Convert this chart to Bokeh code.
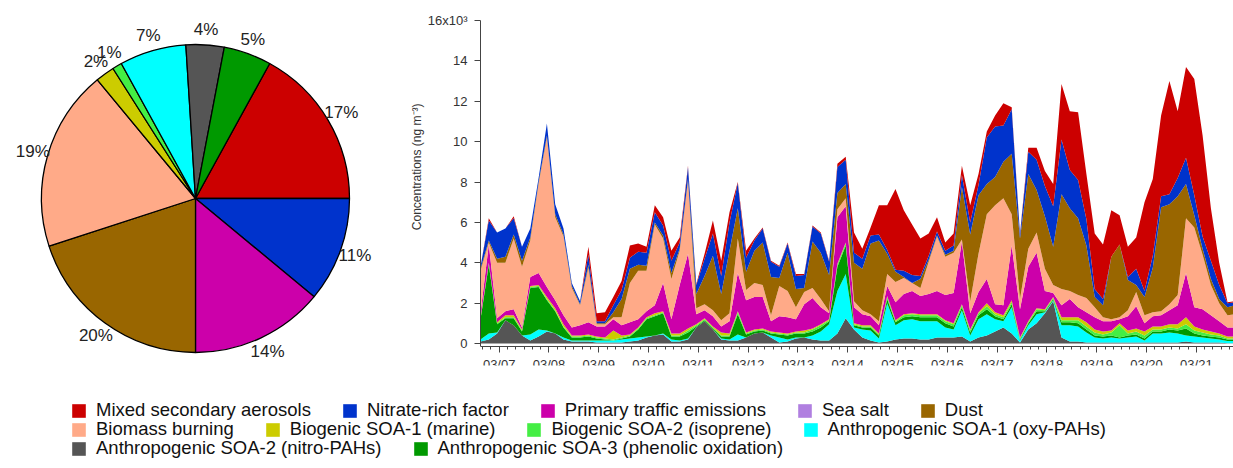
import math
import numpy as np
from bokeh.plotting import figure
from bokeh.layouts import column, row
from bokeh.models import (ColumnDataSource, Range1d, FixedTicker, Legend, LegendItem, Title)
from bokeh.core.properties import value
from bokeh.embed import file_html
from bokeh.resources import INLINE

# ---------------- data ----------------
names = ["Mixed secondary aerosols", "Nitrate-rich factor", "Primary traffic emissions",
         "Sea salt", "Dust", "Biomass burning", "Biogenic SOA-1 (marine)",
         "Biogenic SOA-2 (isoprene)", "Anthropogenic SOA-1 (oxy-PAHs)",
         "Anthropogenic SOA-2 (nitro-PAHs)", "Anthropogenic SOA-3 (phenolic oxidation)"]
colors = ["#CC0000", "#0033CC", "#CC00AA", "#B07FE0", "#996600", "#FFAA88",
          "#CCCC00", "#44EE44", "#00FFFF", "#555555", "#009900"]
pie_pct = [17, 11, 14, 0, 20, 19, 2, 1, 7, 4, 5]

date_labels = ["03/07", "03/08", "03/09", "03/10", "03/11", "03/12", "03/13", "03/14",
               "03/15", "03/16", "03/17", "03/18", "03/19", "03/20", "03/21"]
y_ticks = [0, 2, 4, 6, 8, 10, 12, 14, 16]

# 4-hourly samples from 03/06 15:00 (days relative to 03/07 00:00), x10^3 ng m-3
t_start = -0.375
step_days = 1.0 / 6.0

anthro_soa2 = [0.1, 0.2, 0.5, 1.15, 0.9, 0.4, 0.15, 0.35, 0.6, 0.5, 0.2, 0.1, 0.1, 0.1, 0.05, 0.05,
               0.05, 0.05, 0.1, 0.15, 0.3, 0.4, 0.45, 0.1, 0.1, 0.2, 0.8, 1.1, 0.7, 0.2, 0.15, 0.15,
               0.3, 0.5, 0.55, 0.3, 0.05, 0.1, 0.25, 0.3, 0.2, 0.15, 0.15, 0.5, 1.25, 0.7, 0.3, 0.15,
               0.05, 0.1, 0.2, 0.25, 0.25, 0.2, 0.2, 0.3, 0.3, 0.3, 0.35, 0.1, 0.3, 0.4, 0.6, 0.8,
               0.5, 0.05, 0.7, 1.0, 1.5, 2.1, 0.3, 0.1, 0.1, 0.05, 0.05, 0.05, 0.05, 0.05, 0.05, 0.05,
               0.05, 0.05, 0.05, 0.05, 0.05, 0.1, 0.05, 0.05, 0.05, 0.05, 0.02, 0.02]
anthro_soa1 = [0.1, 0.3, 0.05, 0.0, 0.0, 0.0, 0.3, 0.35, 0.05, 0.0, 0.1, 0.05, 0.05, 0.05, 0.1, 0.1,
               0.1, 0.15, 0.15, 0.15, 0.05, 0.0, 0.05, 0.1, 0.05, 0.05, 0.0, 0.0, 0.0, 0.05, 0.05, 0.3,
               0.0, 0.0, 0.0, 0.1, 0.25, 0.1, 0.05, 0.0, 0.2, 0.45, 0.8, 2.1, 2.2, 0.1, 0.4, 0.5,
               0.2, 1.9, 0.7, 0.9, 0.95, 0.9, 0.9, 0.8, 0.5, 0.4, 1.3, 0.3, 0.9, 1.05, 0.6, 0.3,
               1.3, 0.1, 0.2, 0.45, 0.05, 0.05, 0.6, 0.8, 0.75, 0.5, 0.25, 0.2, 0.25, 0.2, 0.25, 0.3,
               0.1, 0.45, 0.45, 0.5, 0.45, 0.3, 0.3, 0.25, 0.2, 0.15, 0.1, 0.1]
anthro_soa3 = [1.0, 3.4, 0.4, 0.1, 0.35, 0.2, 2.3, 2.1, 1.5, 1.1, 0.5, 0.15, 0.15, 0.2, 0.1, 0.05,
               0.0, 0.05, 0.1, 0.4, 0.85, 0.95, 1.0, 0.15, 0.2, 0.3, 0.05, 0.05, 0.05, 0.1, 0.15, 1.0,
               0.15, 0.1, 0.1, 0.1, 0.15, 0.2, 0.2, 0.2, 0.2, 0.2, 0.15, 1.2, 1.4, 0.1, 0.1, 0.15,
               0.15, 0.2, 0.15, 0.15, 0.15, 0.2, 0.2, 0.2, 0.2, 0.15, 0.15, 0.15, 0.2, 0.25, 0.15, 0.1,
               0.15, 0.05, 0.1, 0.15, 0.05, 0.05, 0.15, 0.15, 0.15, 0.15, 0.1, 0.1, 0.1, 0.05, 0.1, 0.1,
               0.1, 0.1, 0.1, 0.15, 0.15, 0.35, 0.15, 0.1, 0.1, 0.1, 0.08, 0.08]
biogenic_soa2 = [0.05, 0.05, 0.05, 0.05, 0.05, 0.05, 0.05, 0.05, 0.05, 0.05, 0.05, 0.05, 0.05, 0.05, 0.05, 0.05,
                 0.05, 0.05, 0.05, 0.05, 0.05, 0.05, 0.05, 0.05, 0.05, 0.1, 0.05, 0.05, 0.05, 0.05, 0.05, 0.1,
                 0.05, 0.05, 0.05, 0.05, 0.05, 0.05, 0.05, 0.05, 0.1, 0.1, 0.05, 0.1, 0.1, 0.05, 0.05, 0.05,
                 0.05, 0.1, 0.05, 0.1, 0.1, 0.1, 0.1, 0.1, 0.1, 0.1, 0.1, 0.1, 0.1, 0.15, 0.1, 0.1,
                 0.1, 0.05, 0.05, 0.1, 0.05, 0.05, 0.1, 0.1, 0.15, 0.15, 0.15, 0.1, 0.15, 0.6, 0.1, 0.15,
                 0.15, 0.1, 0.1, 0.1, 0.1, 0.2, 0.15, 0.15, 0.1, 0.1, 0.05, 0.05]
biogenic_soa1 = [0.05, 0.05, 0.05, 0.1, 0.1, 0.05, 0.05, 0.05, 0.1, 0.1, 0.1, 0.05, 0.05, 0.05, 0.05, 0.05,
                 0.45, 0.1, 0.05, 0.05, 0.05, 0.1, 0.05, 0.1, 0.1, 0.1, 0.05, 0.05, 0.05, 0.15, 0.1, 0.05,
                 0.05, 0.05, 0.05, 0.05, 0.05, 0.05, 0.05, 0.1, 0.05, 0.05, 0.05, 0.05, 0.05, 0.05, 0.05, 0.05,
                 0.05, 0.05, 0.05, 0.05, 0.05, 0.05, 0.05, 0.05, 0.05, 0.05, 0.05, 0.05, 0.05, 0.15, 0.1, 0.1,
                 0.1, 0.05, 0.05, 0.05, 0.05, 0.05, 0.15, 0.15, 0.15, 0.2, 0.15, 0.15, 0.1, 0.1, 0.15, 0.15,
                 0.2, 0.15, 0.15, 0.15, 0.2, 0.35, 0.2, 0.15, 0.15, 0.1, 0.1, 0.1]
sea_salt = [0.0] * 92
traffic = [0.2, 0.9, 0.2, 0.2, 0.3, 0.1, 0.45, 0.6, 0.5, 0.4, 0.45, 0.4, 0.5, 0.6, 0.5, 0.55,
           0.55, 0.5, 0.6, 0.4, 0.3, 0.4, 1.4, 0.7, 2.4, 3.7, 0.5, 0.4, 0.5, 0.3, 0.6, 1.9,
           1.6, 1.6, 1.55, 0.5, 0.8, 0.8, 0.6, 1.3, 1.5, 0.85, 0.3, 2.3, 1.8, 0.8, 0.55, 0.45,
           0.4, 0.5, 0.9, 1.0, 1.1, 0.9, 1.0, 1.15, 1.25, 1.5, 3.1, 0.8, 1.0, 1.2, 0.4, 0.5,
           2.7, 1.4, 2.7, 2.75, 0.9, 0.2, 0.6, 0.9, 0.5, 0.5, 0.6, 0.5, 0.45, 0.2, 0.7, 1.1,
           0.4, 0.5, 0.55, 0.7, 0.95, 2.2, 0.95, 1.0, 0.8, 0.6, 0.45, 0.45]
biomass = [2.1, 0.1, 2.75, 2.4, 3.5, 3.0, 1.8, 4.4, 7.4, 4.1, 3.9, 1.95, 1.0, 2.7, 0.1, 0.1,
           0.1, 0.4, 1.95, 2.4, 2.0, 4.0, 2.2, 2.0, 1.7, 3.6, 0.3, 0.3, 0.3, 0.3, 0.4, 1.7,
           0.5, 0.7, 0.6, 0.3, 1.5, 1.3, 0.6, 0.6, 0.5, 0.4, 0.1, 0.4, 0.4, 0.3, 0.2, 0.1,
           0.2, 0.6, 1.0, 0.8, 0.4, 0.4, 1.6, 2.7, 1.9, 2.0, 0.1, 0.6, 1.9, 3.2, 4.9, 5.3,
           1.55, 0.5, 0.9, 1.0, 1.1, 0.4, 0.8, 0.4, 0.6, 0.7, 0.5, 0.2, 0.1, 0.1, 0.3, 0.7,
           0.4, 0.2, 0.2, 0.3, 0.5, 2.7, 3.95, 2.7, 1.5, 0.9, 0.6, 0.65]
dust = [0.1, 0.1, 0.2, 0.3, 0.2, 0.3, 0.15, 0.1, 0.1, 0.15, 0.1, 0.1, 0.05, 0.15, 0.05, 0.05,
        0.25, 0.9, 0.7, 0.3, 0.25, 0.1, 0.15, 0.3, 0.1, 0.1, 0.7, 1.4, 2.7, 1.3, 3.1, 1.5,
        0.9, 1.6, 2.1, 1.9, 0.4, 1.9, 0.9, 0.2, 2.3, 2.3, 1.8, 0.8, 0.7, 1.9, 2.05, 3.5,
        4.0, 1.0, 0.5, 0.05, 0.0, 0.45, 0.1, 0.05, 0.1, 0.1, 2.6, 3.3, 2.9, 1.5, 1.4, 1.8,
        3.0, 3.0, 3.7, 2.1, 2.6, 1.9, 4.7, 4.1, 3.8, 2.6, 0.5, 0.6, 3.1, 3.6, 1.5, 0.35,
        0.9, 2.2, 5.15, 4.95, 4.9, 1.7, 0.6, 0.3, 0.3, 0.2, 0.4, 0.45]
nitrate = [0.1, 1.0, 1.3, 1.4, 0.8, 0.7, 0.45, 0.2, 0.6, 0.5, 0.3, 0.15, 0.15, 0.5, 0.1, 0.1,
           0.35, 0.45, 0.55, 0.65, 0.65, 0.5, 0.5, 0.6, 0.3, 0.6, 0.45, 0.85, 1.1, 0.9, 1.4, 1.25,
           0.7, 0.5, 0.7, 0.75, 0.55, 0.45, 0.65, 0.65, 0.75, 0.95, 0.65, 1.3, 1.2, 0.5, 0.5, 0.4,
           0.3, 0.2, 0.1, 0.3, 0.4, 0.15, 0.2, 0.2, 0.2, 0.25, 0.6, 0.6, 0.5, 2.3, 2.5, 1.8,
           2.2, 0.2, 1.1, 1.5, 1.5, 2.0, 2.7, 1.9, 1.9, 1.3, 0.4, 0.3, 0.0, 0.0, 0.15, 0.8,
           0.3, 0.6, 0.55, 0.5, 0.9, 1.3, 1.0, 0.6, 0.9, 0.7, 0.2, 0.15]
mixed = [0.0, 0.1, 0.0, 0.0, 0.1, 0.0, 0.0, 0.0, 0.0, 0.0, 0.0, 0.0, 0.0, 0.4, 0.4, 0.45,
         0.4, 0.45, 0.6, 0.4, 0.3, 0.35, 0.4, 0.5, 0.25, 0.05, 0.05, 0.25, 0.65, 0.75, 0.5, 0.05,
         0.35, 0.1, 0.05, 0.05, 0.05, 0.05, 0.1, 0.05, 0.05, 0.05, 0.05, 0.15, 0.15, 1.0, 0.5, 0.4,
         1.45, 2.2, 4.0, 3.0, 2.5, 1.85, 1.1, 0.7, 0.4, 0.6, 0.45, 0.85, 0.55, 0.3, 0.55, 1.1,
         0.1, 0.05, 0.2, 0.6, 0.75, 1.1, 2.75, 2.9, 3.35, 2.25, 2.75, 2.7, 2.3, 1.45, 1.5, 1.55,
         4.4, 3.8, 4.0, 5.6, 3.3, 4.5, 5.75, 5.0, 2.6, 1.1, 0.05, 0.05]

series = [mixed, nitrate, traffic, sea_salt, dust, biomass, biogenic_soa1,
          biogenic_soa2, anthro_soa1, anthro_soa2, anthro_soa3]

# stacking order bottom -> top (indices into names)
stack_order = [9, 8, 10, 7, 6, 3, 2, 5, 4, 1, 0]

FONT = "Liberation Sans"
TOP, BOTTOM = 20, 30   # shared frame borders of the upper row (px)
FIG_H = 395

# ---------------- pie ----------------
pie = figure(width=400, height=FIG_H, x_range=Range1d(0, 400),
             y_range=Range1d(BOTTOM, FIG_H - TOP),
             toolbar_location=None, output_backend="svg",
             min_border_left=0, min_border_right=0,
             min_border_top=TOP, min_border_bottom=BOTTOM,
             x_axis_location=None, y_axis_location=None)
pie.outline_line_color = None
pie.grid.visible = False

cx, cy, r = 195, 197, 154
starts, ends, pcols, lx, ly, ltxt = [], [], [], [], [], []
cur = 2 * math.pi * pie_pct[0] / 100.0
for i, pct in enumerate(pie_pct):
    a_end = cur
    a_start = cur - 2 * math.pi * pct / 100.0
    cur = a_start
    if pct <= 0:
        continue
    starts.append(a_start)
    ends.append(a_end)
    pcols.append(colors[i])
    mid = 0.5 * (a_start + a_end)
    lx.append(cx + 1.1 * r * math.cos(mid))
    ly.append(cy + 1.1 * r * math.sin(mid))
    ltxt.append(f"{pct}%")

pie.wedge(x=cx, y=cy, radius=r, start_angle=starts, end_angle=ends,
          fill_color=pcols, line_color="black", line_width=1.3)
pie.text(x=lx, y=ly, text=ltxt, text_font=value(FONT), text_font_size=value("17px"),
         text_align="center", text_baseline="middle", text_color="#222222")

# ---------------- stacked area ----------------
n = len(mixed)
t = t_start + np.arange(n) * step_days
data = {"t": t}
keys = []
for i in stack_order:
    k = f"s{i}"
    data[k] = series[i]
    keys.append(k)
src = ColumnDataSource(data)

px_per_unit = 20.19
frame_h = FIG_H - TOP - BOTTOM
x_end = t_start + 753 / 49.8
p = figure(width=833, height=FIG_H, x_range=Range1d(t_start, x_end),
           y_range=Range1d(16 - frame_h / px_per_unit, 16),
           toolbar_location=None, output_backend="svg",
           min_border_left=80, min_border_right=0, min_border_top=TOP, min_border_bottom=BOTTOM)
p.varea_stack(stackers=keys, x="t", color=[colors[i] for i in stack_order], source=src)
p.outline_line_color = None
p.xgrid.visible = False
p.ygrid.visible = False

minor = [m / 6.0 for m in range(-2, 89) if t_start <= m / 6.0 <= x_end]
p.xaxis.ticker = FixedTicker(ticks=list(range(len(date_labels))), minor_ticks=minor)
p.xaxis.major_label_overrides = {i: lab for i, lab in enumerate(date_labels)}
p.xaxis.fixed_location = -0.15
p.yaxis.ticker = FixedTicker(ticks=y_ticks)
p.yaxis.major_label_overrides = {16: "16x10³"}
p.yaxis.bounds = (-0.15, 16)

for ax in (p.xaxis, p.yaxis):
    ax.axis_line_color = "#444444"
    ax.major_tick_line_color = "#444444"
    ax.minor_tick_line_color = "#444444"
    ax.major_label_text_font = FONT
    ax.major_label_text_font_size = "13px"
    ax.major_label_text_color = "#333333"
    ax.major_tick_in = 0
    ax.minor_tick_in = 0
p.xaxis.major_tick_out = 6
p.xaxis.minor_tick_out = 3
p.xaxis.major_label_standoff = 4
p.yaxis.major_tick_out = 6
p.yaxis.minor_tick_line_color = None
p.yaxis.major_label_standoff = 7

p.add_layout(Title(text="Concentrations (ng m⁻³)", align="right", offset=83, standoff=2,
                   text_font=FONT, text_font_size="12px", text_font_style="normal",
                   text_color="#333333"), "left")

# ---------------- legend ----------------
lf = figure(width=1233, height=73, x_range=Range1d(0, 1233), y_range=Range1d(0, 73),
            toolbar_location=None, output_backend="svg", min_border=0,
            x_axis_location=None, y_axis_location=None)
lf.outline_line_color = None
lf.grid.visible = False
dummies = [lf.quad(left=[-60], right=[-50], bottom=[-60], top=[-50], fill_color=c, line_color=None)
           for c in colors]

rows_idx = [[0, 1, 2, 3, 4], [5, 6, 7, 8], [9, 10]]
rows_y = [47, 28, 9]
for idxs, yy in zip(rows_idx, rows_y):
    items = [LegendItem(label=names[i], renderers=[dummies[i]]) for i in idxs]
    leg = Legend(items=items, location=(70, yy), orientation="horizontal",
                 glyph_width=17, glyph_height=17, label_standoff=9, spacing=30,
                 padding=0, margin=0, border_line_color=None, background_fill_alpha=0,
                 label_text_font=FONT, label_text_font_size="18.5px",
                 label_text_color="#111111", label_height=17)
    lf.add_layout(leg, "center")

layout = column(row(pie, p), lf)
open("out.html", "w").write(file_html(layout, INLINE))
